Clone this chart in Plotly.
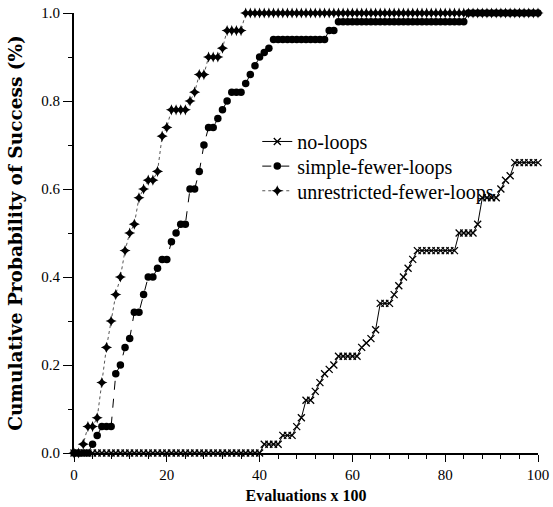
import plotly.graph_objects as go

evaluations = list(range(0, 101))

no_loops = [
    0, 0, 0, 0, 0, 0, 0, 0, 0, 0,
    0, 0, 0, 0, 0, 0, 0, 0, 0, 0,
    0, 0, 0, 0, 0, 0, 0, 0, 0, 0,
    0, 0, 0, 0, 0, 0, 0, 0, 0, 0,
    0, 0.02, 0.02, 0.02, 0.02, 0.04, 0.04, 0.04, 0.06, 0.08,
    0.12, 0.12, 0.14, 0.16, 0.18, 0.19, 0.20, 0.22, 0.22, 0.22,
    0.22, 0.22, 0.24, 0.25, 0.26, 0.28, 0.34, 0.34, 0.34, 0.36,
    0.38, 0.40, 0.42, 0.44, 0.46, 0.46, 0.46, 0.46, 0.46, 0.46,
    0.46, 0.46, 0.46, 0.50, 0.50, 0.50, 0.50, 0.52, 0.58, 0.58,
    0.58, 0.58, 0.60, 0.62, 0.63, 0.66, 0.66, 0.66, 0.66, 0.66,
    0.66,
]

simple_fewer_loops = [
    0, 0, 0, 0, 0.02, 0.04, 0.06, 0.06, 0.06, 0.18,
    0.20, 0.24, 0.26, 0.32, 0.32, 0.36, 0.40, 0.40, 0.42, 0.44,
    0.44, 0.48, 0.50, 0.52, 0.52, 0.60, 0.60, 0.64, 0.70, 0.74,
    0.74, 0.76, 0.78, 0.80, 0.82, 0.82, 0.82, 0.84, 0.86, 0.88,
    0.90, 0.91, 0.92, 0.94, 0.94, 0.94, 0.94, 0.94, 0.94, 0.94,
    0.94, 0.94, 0.94, 0.94, 0.94, 0.96, 0.96, 0.98, 0.98, 0.98,
    0.98, 0.98, 0.98, 0.98, 0.98, 0.98, 0.98, 0.98, 0.98, 0.98,
    0.98, 0.98, 0.98, 0.98, 0.98, 0.98, 0.98, 0.98, 0.98, 0.98,
    0.98, 0.98, 0.98, 0.98, 0.98, 1.0, 1.0, 1.0, 1.0, 1.0,
    1.0, 1.0, 1.0, 1.0, 1.0, 1.0, 1.0, 1.0, 1.0, 1.0,
    1.0,
]

unrestricted_fewer_loops = [
    0, 0, 0.02, 0.06, 0.06, 0.08, 0.16, 0.24, 0.30, 0.36,
    0.40, 0.46, 0.50, 0.52, 0.58, 0.60, 0.62, 0.62, 0.64, 0.72,
    0.74, 0.78, 0.78, 0.78, 0.78, 0.80, 0.82, 0.86, 0.86, 0.90,
    0.90, 0.90, 0.92, 0.96, 0.96, 0.96, 0.96, 1.0, 1.0, 1.0,
    1.0, 1.0, 1.0, 1.0, 1.0, 1.0, 1.0, 1.0, 1.0, 1.0,
    1.0, 1.0, 1.0, 1.0, 1.0, 1.0, 1.0, 1.0, 1.0, 1.0,
    1.0, 1.0, 1.0, 1.0, 1.0, 1.0, 1.0, 1.0, 1.0, 1.0,
    1.0, 1.0, 1.0, 1.0, 1.0, 1.0, 1.0, 1.0, 1.0, 1.0,
    1.0, 1.0, 1.0, 1.0, 1.0, 1.0, 1.0, 1.0, 1.0, 1.0,
    1.0, 1.0, 1.0, 1.0, 1.0, 1.0, 1.0, 1.0, 1.0, 1.0,
    1.0,
]

series_names = ["no-loops", "simple-fewer-loops", "unrestricted-fewer-loops"]
x_tick_values = [0, 20, 40, 60, 80, 100]
y_tick_values = [0.0, 0.2, 0.4, 0.6, 0.8, 1.0]
y_tick_labels = ["0.0", "0.2", "0.4", "0.6", "0.8", "1.0"]

FONT = "Liberation Serif, Times New Roman, serif"

fig = go.Figure()

fig.add_trace(go.Scatter(
    x=evaluations, y=no_loops, name=series_names[0], mode="lines+markers",
    line=dict(color="black", width=1),
    marker=dict(symbol="x-thin", size=7, color="black", line=dict(width=1.3, color="black")),
    cliponaxis=False, legend="legend",
))
fig.add_trace(go.Scatter(
    x=evaluations, y=simple_fewer_loops, name=series_names[1], mode="lines+markers",
    line=dict(color="black", width=1, dash="dash"),
    marker=dict(symbol="circle", size=7.5, color="black"),
    cliponaxis=False, legend="legend2",
))
fig.add_trace(go.Scatter(
    x=evaluations, y=unrestricted_fewer_loops, name=series_names[2], mode="lines+markers",
    line=dict(color="#555555", width=1, dash="dot"),
    marker=dict(symbol="star-diamond", size=8, color="black"),
    cliponaxis=False, legend="legend3",
))

legend_style = dict(
    xanchor="left", yanchor="middle", bgcolor="rgba(0,0,0,0)",
    font=dict(family=FONT, size=20, color="black"), itemwidth=30,
)

fig.update_layout(
    width=553, height=507,
    margin=dict(l=74, r=15, t=13, b=54),
    paper_bgcolor="white", plot_bgcolor="white",
    font=dict(family=FONT, color="black", size=15),
    showlegend=True,
    legend=dict(x=0.395, y=0.708, **legend_style),
    legend2=dict(x=0.395, y=0.652, **legend_style),
    legend3=dict(x=0.395, y=0.596, **legend_style),
)

fig.update_xaxes(
    range=[0, 100], tickvals=x_tick_values,
    showline=True, linecolor="black", linewidth=1.5, mirror=False,
    ticks="outside", ticklen=7, tickwidth=1.2, tickcolor="black",
    minor=dict(dtick=4, ticks="outside", ticklen=4, tickwidth=1, tickcolor="black"),
    showgrid=False, zeroline=False,
    tickfont=dict(family=FONT, size=15),
    title=dict(text="Evaluations x 100", font=dict(family=FONT, size=16, weight="bold"), standoff=8),
    automargin=False,
)
fig.update_yaxes(
    range=[0, 1], tickvals=y_tick_values, ticktext=y_tick_labels,
    showline=True, linecolor="black", linewidth=2, mirror=False,
    ticks="outside", ticklen=9, tickwidth=1.2, tickcolor="black",
    minor=dict(dtick=0.1, ticks="outside", ticklen=4, tickwidth=1, tickcolor="black"),
    showgrid=False, zeroline=False,
    tickfont=dict(family=FONT, size=15),
    title=dict(text="Cumulative Probability of Success (%)",
               font=dict(family="DejaVu Serif, serif", size=18.5, weight="bold"), standoff=14),
    automargin=False,
)

fig.write_html("out.html")
